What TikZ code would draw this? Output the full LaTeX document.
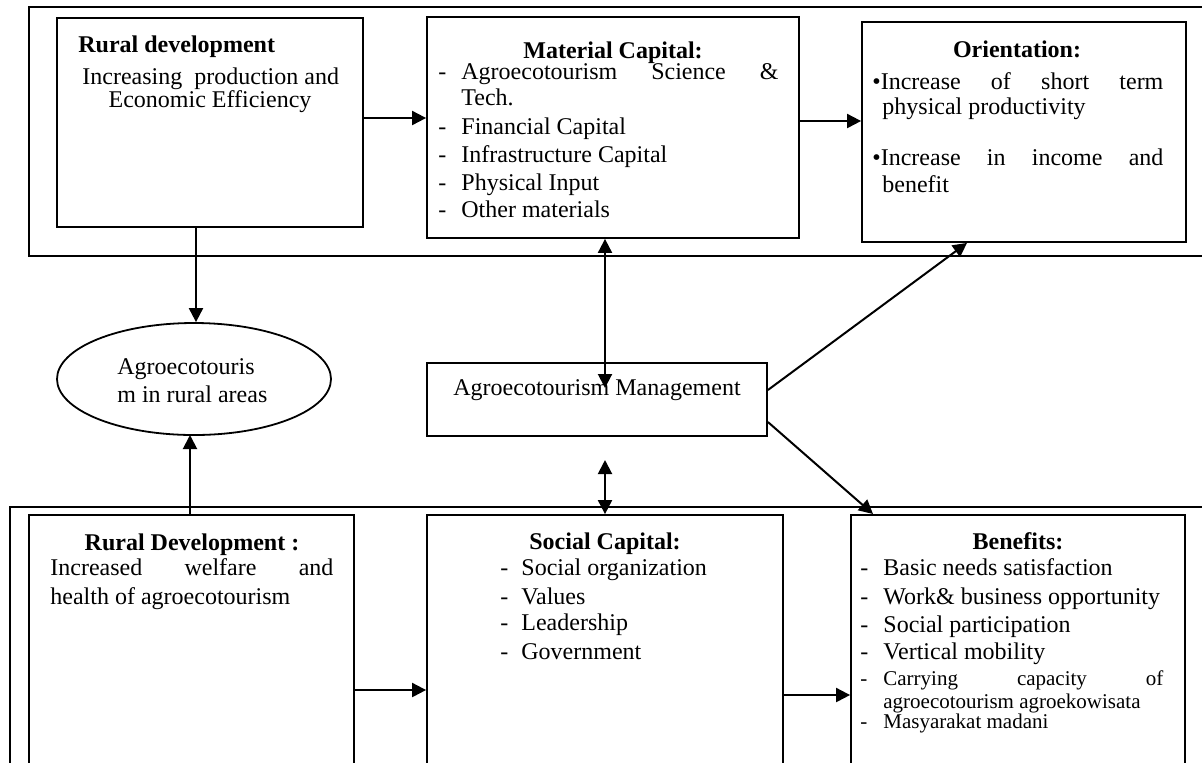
\documentclass[tikz,border=0pt]{standalone}
\usepackage{fontspec}
\setmainfont{Liberation Serif}
\usetikzlibrary{fit,shapes.geometric,arrows.meta}
\begin{document}
\begin{tikzpicture}[x=0.5pt,y=-0.5pt,
  box/.style={draw,line width=0.9pt,inner sep=0pt},
  arr/.style={line width=1pt,-{Triangle[length=7pt,width=7pt]}},
  arrr/.style={line width=1pt,{Triangle[length=7pt,width=7pt]}-{Triangle[length=7pt,width=7pt]}},
  txt/.style={inner sep=0pt,font=\fontsize{12}{14}\selectfont},
  ttl/.style={inner sep=0pt,font=\fontsize{12}{14}\selectfont\bfseries,anchor=base},
  lt/.style={txt,anchor=base west},
  sm/.style={inner sep=0pt,font=\fontsize{10.5}{12}\selectfont,anchor=base west}]
\useasboundingbox (0,0) rectangle (1202,762);
\begin{scope}
\clip (0,0) rectangle (1202,762);
% frames
\node[box,fit={(29,7) (1220,256)}] (topframe) {};
\node[box,fit={(10,507) (1220,800)}] (botframe) {};
% boxes
\node[box,fill=white,fit={(57,18) (363,227)}] (b1) {};
\node[box,fill=white,fit={(427,17) (799,238)}] (mat) {};
\node[box,fill=white,fit={(862,22) (1186,242)}] (ori) {};
\node[box,fill=white,ellipse,minimum width=137pt,minimum height=56pt] (ell) at (194,379) {};
\node[box,fill=white,fit={(427,363) (767,436)}] (mgmt) {};
\node[box,fill=white,fit={(29,515) (354,800)}] (rd) {};
\node[box,fill=white,fit={(427,515) (783,800)}] (soc) {};
\node[box,fill=white,fit={(851,515) (1185,800)}] (ben) {};
% box 1 text
\node[lt,font=\fontsize{12}{14}\selectfont\bfseries] (b1t) at (78,52) {Rural development};
\node[lt] (b1a) at (82,84) {Increasing\ \ production and};
\node[txt,anchor=base] (b1b) at (210,107) {Economic Efficiency};
% material text
\node[ttl] (matt) at (613,58) {Material Capital:};
\node[lt] (md1) at (438,79) {-};
\node[lt] (m1) at (461,79) {\makebox[158.5pt][s]{Agroecotourism Science \&}};
\node[lt] (m1b) at (461,105) {Tech.};
\node[lt] (md2) at (438,134) {-};
\node[lt] (m2) at (461,134) {Financial Capital};
\node[lt] (md3) at (438,162) {-};
\node[lt] (m3) at (461,162) {Infrastructure Capital};
\node[lt] (md4) at (438,190) {-};
\node[lt] (m4) at (461,190) {Physical Input};
\node[lt] (md5) at (438,217) {-};
\node[lt] (m5) at (461,217) {Other materials};
% orientation text
\node[ttl] (orit) at (1017,57) {Orientation:};
\node[lt] (o1) at (872,89) {\makebox[145.5pt][s]{•Increase of short term}};
\node[lt] (o1b) at (882,114) {physical productivity};
\node[lt] (o2) at (872,165) {\makebox[145.5pt][s]{•Increase in income and}};
\node[lt] (o2b) at (882,192) {benefit};
% ellipse text
\node[lt] (e1) at (117,374) {Agroecotouris};
\node[lt] (e2) at (117,402) {m in rural areas};
% management text
\node[lt] (mg) at (453,395) {Agroecotourism Management};
% rural development bottom
\node[ttl] (rdt) at (192,550) {Rural Development :};
\node[lt] (r1) at (50,575) {\makebox[141.5pt][s]{Increased welfare and}};
\node[lt] (r2) at (50,604) {health of agroecotourism};
% social capital
\node[ttl] (soct) at (605,549) {Social Capital:};
\node[lt] (sd1) at (500,575) {-};
\node[lt] (s1) at (521,575) {Social organization};
\node[lt] (sd2) at (500,604) {-};
\node[lt] (s2) at (521,604) {Values};
\node[lt] (sd3) at (500,630) {-};
\node[lt] (s3) at (521,630) {Leadership};
\node[lt] (sd4) at (500,659) {-};
\node[lt] (s4) at (521,659) {Government};
% benefits
\node[ttl] (bent) at (1018,549) {Benefits:};
\node[lt] (bd1) at (860,575) {-};
\node[lt] (bb1) at (883,575) {Basic needs satisfaction};
\node[lt] (bd2) at (860,604) {-};
\node[lt] (bb2) at (883,604) {Work\& business opportunity};
\node[lt] (bd3) at (860,632) {-};
\node[lt] (bb3) at (883,632) {Social participation};
\node[lt] (bd4) at (860,659) {-};
\node[lt] (bb4) at (883,659) {Vertical mobility};
\node[sm] (bd5) at (860,685) {-};
\node[sm] (bb5) at (883,685) {\makebox[140pt][s]{Carrying capacity of}};
\node[sm] (bb5b) at (883,708) {agroecotourism agroekowisata};
\node[sm] (bd6) at (860,728) {-};
\node[sm] (bb6) at (883,728) {Masyarakat madani};
% connectors
\draw[arr] (b1.east |- 0,118) -- (mat.west |- 0,118);
\draw[arr] (mat.east |- 0,121) -- (ori.west |- 0,121);
\draw[arr] (b1.south -| 196,0) -- (ell.north -| 196,0);
\draw[arr] (rd.north -| 190,0) -- (190,435);
\coordinate (mtip) at (605,388);
\draw[arrr] (mat.south -| 605,0) -- (mtip);
\coordinate (da) at (605,460);
\draw[arrr] (da) -- (soc.north -| 605,0);
\draw[arr] (mgmt.east |- 0,390) -- (ori.south -| 967,0);
\draw[arr] (mgmt.east |- 0,422) -- (873,514);
\draw[arr] (rd.east |- 0,690) -- (soc.west |- 0,690);
\draw[arr] (soc.east |- 0,695) -- (ben.west |- 0,695);
\end{scope}
\end{tikzpicture}
\end{document}
